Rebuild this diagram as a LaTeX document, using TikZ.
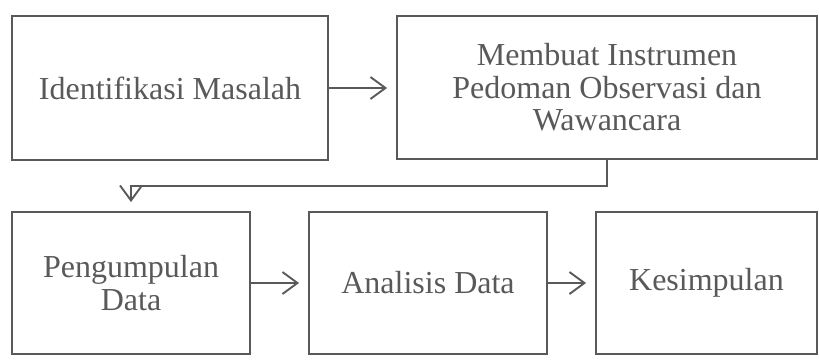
\documentclass[tikz,border=0pt]{standalone}
\usepackage{fontspec}
\setmainfont{Liberation Serif}
\usetikzlibrary{arrows.meta}
\definecolor{ink}{HTML}{595959}
\tikzset{
  box/.style={draw=ink, line width=1.9pt, text=ink, inner sep=0pt, align=center,
    font=\fontsize{32}{32.5}\selectfont},
  arr/.style={draw=ink, line width=1.9pt, -{Straight Barb[length=15pt,width=22pt,line width=1.9pt]}, shorten >=9pt}
}
\begin{document}
\begin{tikzpicture}[x=1pt,y=-1pt]
\useasboundingbox (0,0) rectangle (819,360);
\node[box, minimum width=316pt, minimum height=144pt] (b1) at (170,88) {Identifikasi Masalah};
\node[box, minimum width=420pt, minimum height=143pt] (b2) at (607,87.5) {Membuat Instrumen\\Pedoman Observasi dan\\Wawancara};
\node[box, minimum width=238pt, minimum height=142pt] (b3) at (131,283) {Pengumpulan\\Data};
\node[box, minimum width=238pt, minimum height=142pt] (b4) at (428,283) {Analisis Data};
\node[box, minimum width=221pt, minimum height=142pt] (b5) at (706.5,283) {Kesimpulan};
\draw[arr] (b1.east) -- (b1.east -| b2.west);
\draw[arr] (b2.south) -- ++(0,26) -| (b3.north);
\draw[arr] (b3.east) -- (b4.west);
\draw[arr] (b4.east) -- (b5.west);
\end{tikzpicture}
\end{document}
